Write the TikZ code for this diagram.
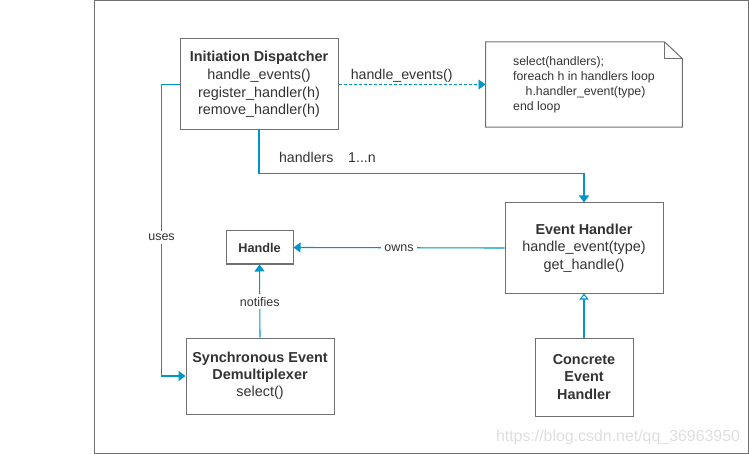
\documentclass[tikz,border=0pt]{standalone}
\usepackage{fontspec}
\setmainfont{Liberation Sans}
\usepackage{xcolor}
\usepackage{tikz}
\usetikzlibrary{positioning,shapes,arrows.meta}

\definecolor{linkblue}{RGB}{0,150,199}
\definecolor{boxgray}{RGB}{112,112,112}
\definecolor{txtgray}{RGB}{51,51,51}

\begin{document}
\begin{tikzpicture}[x=1pt, y=-1pt,
    box/.style={rectangle, draw=boxgray, line width=1pt, fill=white, align=center, text=txtgray, font=\fontsize{14.4}{17.7}\selectfont, inner sep=0pt},
    lbl/.style={fill=white, text=txtgray, font=\fontsize{14.2}{17}\selectfont, inner sep=2pt},
    minilbl/.style={fill=white, text=txtgray, font=\fontsize{12.5}{15}\selectfont, inner sep=3pt},
    conn/.style={draw=linkblue, line width=1.1pt},
    fillarrow/.style={-{Triangle[width=10pt, length=7pt]}},
    openarrow/.style={-{Triangle[open, fill=white, width=9pt, length=6pt]}},
    dashline/.style={line width=0.9pt, dash pattern=on 3pt off 2pt}]
    \useasboundingbox (0,0) rectangle (749,454);
    % 外枠
    \draw[boxgray, line width=1pt] (94.5,0.5) rectangle (748,453);

    % ボックス
    \node [box, minimum width=158pt, minimum height=91pt] (disp) at (259,84.5) {\textbf{Initiation Dispatcher}\\handle\_events()\\register\_handler(h)\\remove\_handler(h)};
    \node [align=left, text=txtgray, font=\fontsize{12.3}{15}\selectfont, inner xsep=27.5pt, inner ysep=0pt, minimum width=196pt, minimum height=85pt] (memo) at (584,84.5) {select(handlers);\\foreach h in handlers loop\\\hspace*{12.5pt}h.handler\_event(type)\\end loop};
    \draw [boxgray, line width=1pt] (memo.north west) -- ([xshift=-18pt]memo.north east) -- ([yshift=-17pt]memo.north east) -- (memo.south east) -- (memo.south west) -- cycle;
    \draw [boxgray, line width=1pt] ([xshift=-18pt]memo.north east) |- ([yshift=-17pt]memo.north east);
    \node [box, font=\fontsize{12.7}{15}\selectfont, minimum width=67pt, minimum height=33pt] (handle) at (259.5,247.5) {\textbf{Handle}};
    \node [box, minimum width=158pt, minimum height=90pt] (evh) at (584,248) {\textbf{Event Handler}\\handle\_event(type)\\get\_handle()};
    \node [box, font=\fontsize{14.4}{17}\selectfont, minimum width=148pt, minimum height=76pt] (sync) at (260,376) {\textbf{Synchronous Event}\\\textbf{Demultiplexer}\\select()};
    \node [box, font=\fontsize{14.4}{17.5}\selectfont, minimum width=98pt, minimum height=78pt] (conc) at (584,377) {\textbf{Concrete}\\\textbf{Event}\\\textbf{Handler}};

    % 矢印
    \draw [conn, dashline, fillarrow] (disp.east) -- node[lbl, pos=0.43, above, fill=none] (evlbl) {handle\_events()} (memo.west);
    \draw [conn, fillarrow] (disp.south) -- ++(0,43) -| node[lbl, pos=0.03, anchor=south west, yshift=10pt, inner sep=0pt, fill=none] (hlbl) {handlers\hspace{14.7pt}1...n} (evh.north);
    \draw [conn, fillarrow] (evh.west) -- node[minilbl, midway] (ownslbl) {owns} (handle.east);
    \draw [conn, fillarrow] (sync.north) -- node[minilbl, pos=0.49] (notlbl) {notifies} (handle.south);
    \draw [conn, fillarrow] (disp.west) -- ++(-18,0) |- node[minilbl, pos=0.262] (useslbl) {uses} (sync.west);
    \draw [conn, openarrow] (conc.north) -- (evh.south);

    \node [text=black!13, font=\fontsize{15.9}{18}\selectfont] (mark) at (618,437) {https://blog.csdn.net/qq\_36963950};
\end{tikzpicture}
\end{document}
